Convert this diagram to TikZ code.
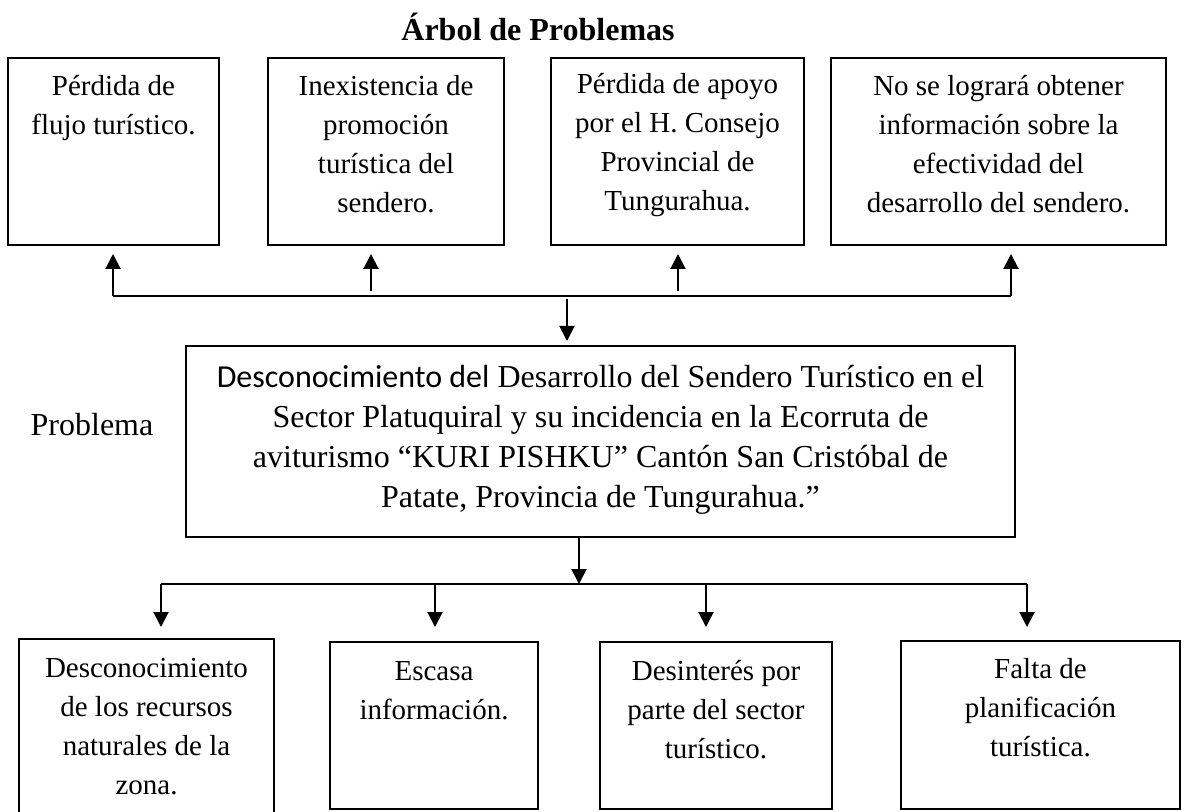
\documentclass[tikz,border=0pt]{standalone}
\usepackage{fontspec}
\setmainfont{Liberation Serif}
\newfontfamily\carlito{Carlito}
\usetikzlibrary{arrows.meta,fit}
\tikzset{
  box/.style={draw, line width=1pt, inner sep=0pt},
  txt/.style={inner sep=0pt, align=center, anchor=north, font=\fontsize{14.5}{19.5}\selectfont},
  bigtxt/.style={inner sep=0pt, align=center, anchor=north, font=\fontsize{16}{20}\selectfont},
  ttl/.style={inner sep=0pt, anchor=base, font=\bfseries\fontsize{16}{20}\selectfont},
  lbl/.style={inner sep=0pt, anchor=base, font=\fontsize{16}{20}\selectfont},
  conn/.style={line width=1pt},
  arr/.style={line width=1pt, -{Triangle[width=7.5pt,length=7.5pt]}}
}
\begin{document}
\begin{tikzpicture}[x=0.5pt,y=-0.5pt]
\useasboundingbox (0,0) rectangle (1187,812);

% title
\node[ttl] (title) at (538,41) {Árbol de Problemas};

% effects (top)
\node[box, fit={(8,58) (219,245)}] (e1) {};
\node[box, fit={(268,58) (504,245)}] (e2) {};
\node[box, fit={(551,58) (804,245)}] (e3) {};
\node[box, fit={(831,58) (1166,245)}] (e4) {};
\node[txt] (e1t) at (113.5,67.7) {\strut Pérdida de\\flujo turístico.};
\node[txt] (e2t) at (386,67.7) {\strut Inexistencia de\\promoción\\turística del\\sendero.};
\node[txt] (e3t) at (677.5,66) {\strut Pérdida de apoyo\\por el H. Consejo\\Provincial de\\Tungurahua.};
\node[txt] (e4t) at (998.5,67.7) {\strut No se logrará obtener\\información sobre la\\efectividad del\\desarrollo del sendero.};

% central problem
\node[box, fit={(186,346) (1015,537)}] (c) {};
\node[bigtxt] (ct) at (600.5,359) {\strut{\carlito Desconocimiento del} Desarrollo del Sendero Turístico en el\\Sector Platuquiral y su incidencia en la Ecorruta de\\aviturismo “KURI PISHKU” Cantón San Cristóbal de\\Patate, Provincia de Tungurahua.”};
\node[lbl] (prob) at (92,435) {Problema};

% causes (bottom)
\node[box, fit={(19,639) (274,816)}] (b1) {};
\node[box, fit={(330,642) (538,809)}] (b2) {};
\node[box, fit={(600,642) (832,809)}] (b3) {};
\node[box, fit={(901,641) (1180,809)}] (b4) {};
\node[txt] (b1t) at (146.5,649.7) {\strut Desconocimiento\\de los recursos\\naturales de la\\zona.};
\node[txt] (b2t) at (434,652.7) {\strut Escasa\\información.};
\node[txt] (b3t) at (716,652.7) {\strut Desinterés por\\parte del sector\\turístico.};
\node[txt] (b4t) at (1040.5,650.7) {\strut Falta de\\planificación\\turística.};

% top connectors
\coordinate (tL) at (113,296);
\coordinate (t2) at (371,296);
\coordinate (t3) at (678,296);
\coordinate (tR) at (1011,296);
\coordinate (tC) at (567,296);
\draw[conn] (tL) -- (tR);
\draw[arr, shorten >=4pt] (tL) -- (tL |- e1.south);
\draw[arr, shorten <=2.5pt, shorten >=4pt] (t2) -- (t2 |- e2.south);
\draw[arr, shorten <=2.5pt, shorten >=4pt] (t3) -- (t3 |- e3.south);
\draw[arr, shorten >=4pt] (tR) -- (tR |- e4.south);
\draw[arr, shorten <=1.5pt, shorten >=2pt] (tC) -- (tC |- c.north);

% bottom connectors
\coordinate (bC) at (579,584);
\coordinate (bL) at (161,584);
\coordinate (b2j) at (435,584);
\coordinate (b3j) at (706,584);
\coordinate (bR) at (1027,584);
\draw[arr] (bC |- c.south) -- (bC);
\draw[conn] (bL) -- (bR);
\draw[arr, shorten >=5.5pt] (bL) -- (bL |- b1.north);
\draw[arr, shorten >=7pt] (b2j) -- (b2j |- b2.north);
\draw[arr, shorten >=7pt] (b3j) -- (b3j |- b3.north);
\draw[arr, shorten >=6.5pt] (bR) -- (bR |- b4.north);
\end{tikzpicture}
\end{document}
